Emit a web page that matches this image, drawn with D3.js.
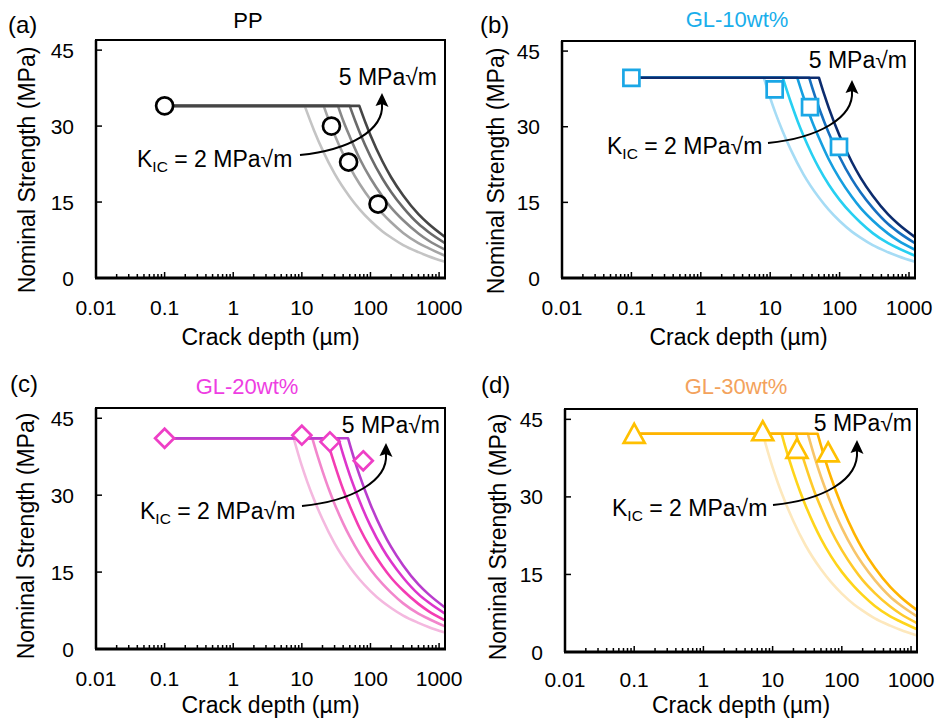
<!DOCTYPE html>
<meta charset="utf-8">

<style>
  body { margin: 0; background: #fff; }
  svg text { font-family: "Liberation Sans", Arial, sans-serif; fill: #000; }
  .tick-label { font-size: 21px; }
  .axis-title { font-size: 23px; }
  .panel-title { font-size: 22px; }
  .tag { font-size: 24px; }
  .note { font-size: 23px; }
</style>

<body>
<svg id="chart" width="940" height="722"></svg>
<script src="https://d3js.org/d3.v7.min.js"></script>

<script type="text/javascript">

    // ---- data ----

    var xTicks = [0.01, 0.1, 1, 10, 100, 1000];
    var xTickLabels = ["0.01", "0.1", "1", "10", "100", "1000"];
    var yTicks = [0, 15, 30, 45];
    var xDomain = [0.01, 1220];
    var yDomain = [0, 47];

    var panelTags = ["(a)", "(b)", "(c)", "(d)"];
    var panelTitles = ["PP", "GL-10wt%", "GL-20wt%", "GL-30wt%"];

    // KIC curves, 2 -> 5 MPa√m, each [crack depth µm, strength MPa]
    // first point = plateau start, second = knee
    var ppCurves = [
        [[0.1, 34], [11, 34], [15, 29.2], [20, 25.3], [30, 20.6], [50, 16.0], [70, 13.5], [100, 11.3], [150, 9.2], [200, 8.0], [300, 6.5], [500, 5.1], [700, 4.3], [1220, 3.2]],
        [[0.1, 34], [20.8, 34], [25, 31.0], [30, 28.3], [40, 24.5], [50, 21.9], [70, 18.5], [100, 15.5], [150, 12.7], [200, 11.0], [300, 8.9], [500, 6.9], [700, 5.9], [1220, 4.4]],
        [[0.1, 34], [33.6, 34], [40, 31.1], [50, 27.9], [70, 23.5], [100, 19.7], [150, 16.1], [200, 13.9], [300, 11.4], [500, 8.8], [700, 7.4], [1220, 5.6]],
        [[0.1, 34], [49.8, 34], [60, 31.0], [70, 28.7], [100, 24.0], [150, 19.6], [200, 17.0], [300, 13.9], [500, 10.7], [700, 9.1], [1220, 6.9]],
        [[0.1, 34], [68.8, 34], [85, 30.6], [100, 28.2], [150, 23.0], [200, 19.9], [300, 16.3], [500, 12.6], [700, 10.7], [1220, 8.1]]
    ];
    var ppPoints = [[0.1, 34.0], [27, 30.0], [48, 22.9], [129, 14.6]];

    var gl10Curves = [
        [[0.1, 39.7], [8.1, 39.7], [10, 35.7], [12, 32.6], [15, 29.2], [20, 25.3], [30, 20.6], [50, 16.0], [70, 13.5], [100, 11.3], [150, 9.2], [200, 8.0], [300, 6.5], [500, 5.1], [700, 4.3], [1220, 3.2]],
        [[0.1, 39.7], [15.2, 39.7], [20, 34.7], [25, 31.0], [30, 28.3], [40, 24.5], [50, 21.9], [70, 18.5], [100, 15.5], [150, 12.7], [200, 11.0], [300, 8.9], [500, 6.9], [700, 5.9], [1220, 4.4]],
        [[0.1, 39.7], [24.6, 39.7], [30, 36.0], [40, 31.1], [50, 27.9], [70, 23.5], [100, 19.7], [150, 16.1], [200, 13.9], [300, 11.4], [500, 8.8], [700, 7.4], [1220, 5.6]],
        [[0.1, 39.7], [36.5, 39.7], [40, 37.9], [50, 33.9], [60, 31.0], [70, 28.7], [100, 24.0], [150, 19.6], [200, 17.0], [300, 13.9], [500, 10.7], [700, 9.1], [1220, 6.9]],
        [[0.1, 39.7], [50.5, 39.7], [60, 36.4], [70, 33.7], [100, 28.2], [150, 23.0], [200, 19.9], [300, 16.3], [500, 12.6], [700, 10.7], [1220, 8.1]]
    ];
    var gl10Points = [[0.1, 39.7], [11.6, 37.4], [37.5, 33.9], [98, 26.0]];

    var gl20Curves = [
        [[0.1, 41.1], [7.6, 41.1], [10, 35.7], [12, 32.6], [15, 29.2], [20, 25.3], [30, 20.6], [50, 16.0], [70, 13.5], [100, 11.3], [150, 9.2], [200, 8.0], [300, 6.5], [500, 5.1], [700, 4.3], [1220, 3.2]],
        [[0.1, 41.1], [14.2, 41.1], [17, 37.6], [20, 34.7], [25, 31.0], [30, 28.3], [40, 24.5], [50, 21.9], [70, 18.5], [100, 15.5], [150, 12.7], [200, 11.0], [300, 8.9], [500, 6.9], [700, 5.9], [1220, 4.4]],
        [[0.1, 41.1], [23.0, 41.1], [25, 39.4], [30, 36.0], [40, 31.1], [50, 27.9], [70, 23.5], [100, 19.7], [150, 16.1], [200, 13.9], [300, 11.4], [500, 8.8], [700, 7.4], [1220, 5.6]],
        [[0.1, 41.1], [34.1, 41.1], [40, 37.9], [50, 33.9], [60, 31.0], [70, 28.7], [100, 24.0], [150, 19.6], [200, 17.0], [300, 13.9], [500, 10.7], [700, 9.1], [1220, 6.9]],
        [[0.1, 41.1], [47.1, 41.1], [50, 39.9], [60, 36.4], [70, 33.7], [100, 28.2], [150, 23.0], [200, 19.9], [300, 16.3], [500, 12.6], [700, 10.7], [1220, 8.1]]
    ];
    var gl20Points = [[0.1, 41.1], [10, 41.7], [25.7, 40.4], [78.5, 36.7]];

    var gl30Curves = [
        [[0.1, 42.2], [7.2, 42.2], [8.5, 38.8], [10, 35.7], [12, 32.6], [15, 29.2], [20, 25.3], [30, 20.6], [50, 16.0], [70, 13.5], [100, 11.3], [150, 9.2], [200, 8.0], [300, 6.5], [500, 5.1], [700, 4.3], [1220, 3.2]],
        [[0.1, 42.2], [13.5, 42.2], [15, 40.0], [20, 34.7], [25, 31.0], [30, 28.3], [40, 24.5], [50, 21.9], [70, 18.5], [100, 15.5], [150, 12.7], [200, 11.0], [300, 8.9], [500, 6.9], [700, 5.9], [1220, 4.4]],
        [[0.1, 42.2], [21.8, 42.2], [25, 39.4], [30, 36.0], [40, 31.1], [50, 27.9], [70, 23.5], [100, 19.7], [150, 16.1], [200, 13.9], [300, 11.4], [500, 8.8], [700, 7.4], [1220, 5.6]],
        [[0.1, 42.2], [32.3, 42.2], [40, 37.9], [50, 33.9], [60, 31.0], [70, 28.7], [100, 24.0], [150, 19.6], [200, 17.0], [300, 13.9], [500, 10.7], [700, 9.1], [1220, 6.9]],
        [[0.1, 42.2], [44.7, 42.2], [50, 39.9], [60, 36.4], [70, 33.7], [100, 28.2], [150, 23.0], [200, 19.9], [300, 16.3], [500, 12.6], [700, 10.7], [1220, 8.1]]
    ];
    var gl30Points = [[0.1, 42.0], [7.2, 42.5], [22.5, 39.1], [63.4, 38.4]];

    var kicLowLabel = " = 2 MPa√m";
    var kicHighLabel = "5 MPa√m";

    // ---- layout / styles ----

    var panels = [
        { curves: ppCurves, points: ppPoints, marker: "circle",
          colors: ["#c4c4c4", "#a5a5a5", "#888888", "#6a6a6a", "#454545"], markColor: "#000", titleColor: "#000",
          box: [96, 40, 445, 278], tag: [8, 33], title: [248, 28], yTitle: [35, 170], xTickY: 315, xTitleY: 345,
          five: [341, 45], kic: [41, 127], arrow: [204, 115, 286, 53] },
        { curves: gl10Curves, points: gl10Points, marker: "square",
          colors: ["#a6dcf5", "#27d0f2", "#159fe0", "#1670c0", "#0c2c6e"], markColor: "#1aa7e6", titleColor: "#19aeeb",
          box: [562, 41, 915, 278], tag: [480, 33], title: [737, 27], yTitle: [504, 171], xTickY: 315, xTitleY: 345,
          five: [345, 27], kic: [45, 113], arrow: [206, 102, 290, 39] },
        { curves: gl20Curves, points: gl20Points, marker: "diamond",
          colors: ["#f4b8df", "#f286cc", "#f43cb3", "#dd35cc", "#b93dcd"], markColor: "#ee3fc6", titleColor: "#ee3ee2",
          box: [96, 408, 445, 649], tag: [10, 392], title: [247, 394], yTitle: [34, 536], xTickY: 686, xTitleY: 713,
          five: [344, 25], kic: [44, 111], arrow: [206, 98, 290, 35] },
        { curves: gl30Curves, points: gl30Points, marker: "triangle",
          colors: ["#fde8bd", "#ffd51a", "#ffca2a", "#f7c56a", "#ffb400"], markColor: "#ffc000", titleColor: "#f3a25c",
          box: [565, 409, 917, 652], tag: [481, 393], title: [736, 394], yTitle: [506, 537], xTickY: 687, xTitleY: 713,
          five: [347, 22], kic: [47, 107], arrow: [208, 96, 292, 31] }
    ];

    var svg = d3.select("#chart");

    function markerPath(type) {
        if (type == "square") return "M-8,-8H8V8H-8Z";
        if (type == "diamond") return "M0,-9.5L9.5,0L0,9.5L-9.5,0Z";
        if (type == "triangle") return "M0,-11L10.5,8L-10.5,8Z";
        return null;
    }

    panels.forEach(function (p, i) {
        var x0 = p.box[0], y0 = p.box[1], x1 = p.box[2], y1 = p.box[3];
        var x = d3.scaleLog().domain(xDomain).range([x0, x1]);
        var y = d3.scaleLinear().domain(yDomain).range([y1, y0]);
        var g = svg.append("g");

        // curves: straight plateau then smooth tail
        var tail = d3.line()
            .x(function (d) { return x(d[0]); })
            .y(function (d) { return y(d[1]); })
            .curve(d3.curveMonotoneX);

        p.curves.forEach(function (c, k) {
            var start = "M" + x(c[0][0]) + "," + y(c[0][1]);
            var rest = tail(c.slice(1)).replace(/^M/, "L");
            g.append("path")
                .attr("d", start + rest)
                .attr("fill", "none")
                .attr("stroke", p.colors[k])
                .attr("stroke-width", 2.6)
                .attr("stroke-linejoin", "round");
        });

        // frame + axes
        g.append("rect")
            .attr("x", x0).attr("y", y0)
            .attr("width", x1 - x0).attr("height", y1 - y0)
            .attr("fill", "none").attr("stroke", "#000").attr("stroke-width", 2);
        g.append("line")
            .attr("x1", x0 - 1).attr("x2", x1 + 1).attr("y1", y1).attr("y2", y1)
            .attr("stroke", "#000").attr("stroke-width", 3);
        g.append("line")
            .attr("x1", x0).attr("x2", x0).attr("y1", y0).attr("y2", y1)
            .attr("stroke", "#000").attr("stroke-width", 2.5);

        // x ticks (log, inside)
        x.ticks().forEach(function (t) {
            var lg = Math.log10(t);
            var major = Math.abs(lg - Math.round(lg)) < 1e-6;
            if (t <= xDomain[0]) return;
            g.append("line")
                .attr("x1", x(t)).attr("x2", x(t))
                .attr("y1", y1).attr("y2", y1 - (major ? 6 : 4))
                .attr("stroke", "#000").attr("stroke-width", 1.5);
        });
        xTicks.forEach(function (t, k) {
            g.append("text").attr("class", "tick-label")
                .attr("x", x(t)).attr("y", p.xTickY)
                .attr("text-anchor", "middle")
                .text(xTickLabels[k]);
        });

        // y ticks (inside)
        yTicks.forEach(function (t) {
            g.append("line")
                .attr("x1", x0).attr("x2", x0 + 6)
                .attr("y1", y(t)).attr("y2", y(t))
                .attr("stroke", "#000").attr("stroke-width", 1.5);
            g.append("text").attr("class", "tick-label")
                .attr("x", x0 - 22).attr("y", y(t)).attr("dy", "0.36em")
                .attr("text-anchor", "end")
                .text(t);
        });

        // titles
        g.append("text").attr("class", "axis-title")
            .attr("x", (x0 + x1) / 2).attr("y", p.xTitleY)
            .attr("text-anchor", "middle")
            .text("Crack depth (µm)");
        g.append("text").attr("class", "axis-title")
            .attr("transform", "translate(" + p.yTitle[0] + "," + p.yTitle[1] + ") rotate(-90)")
            .attr("text-anchor", "middle")
            .text("Nominal Strength (MPa)");
        g.append("text").attr("class", "panel-title")
            .attr("x", p.title[0]).attr("y", p.title[1])
            .attr("text-anchor", "middle")
            .style("fill", p.titleColor)
            .text(panelTitles[i]);
        g.append("text").attr("class", "tag")
            .attr("x", p.tag[0]).attr("y", p.tag[1])
            .text(panelTags[i]);

        // annotations
        g.append("text").attr("class", "note")
            .attr("x", x0 + p.five[0]).attr("y", y0 + p.five[1])
            .attr("text-anchor", "end")
            .text(kicHighLabel);
        var kt = g.append("text").attr("class", "note")
            .attr("x", x0 + p.kic[0]).attr("y", y0 + p.kic[1]);
        kt.append("tspan").text("K");
        kt.append("tspan").attr("dy", 5).style("font-size", "15.5px").text("IC");
        kt.append("tspan").attr("dy", -5).text(kicLowLabel);

        var sx = x0 + p.arrow[0], sy = y0 + p.arrow[1], hx = x0 + p.arrow[2], hy = y0 + p.arrow[3];
        g.append("path")
            .attr("d", "M" + sx + "," + sy + "C" + (sx + 50) + "," + (sy - 5) + " " + (hx + 2) + "," + (sy - 25) + " " + hx + "," + (hy + 11))
            .attr("fill", "none").attr("stroke", "#000").attr("stroke-width", 2);
        g.append("path")
            .attr("d", "M" + hx + "," + hy + "L" + (hx + 6.5) + "," + (hy + 14) + "L" + hx + "," + (hy + 11) + "L" + (hx - 6.5) + "," + (hy + 13) + "Z")
            .attr("fill", "#000");

        // measured points
        p.points.forEach(function (d) {
            if (p.marker == "circle") {
                g.append("circle")
                    .attr("cx", x(d[0])).attr("cy", y(d[1])).attr("r", 8.5)
                    .attr("fill", "#fff").attr("stroke", p.markColor).attr("stroke-width", 2.7);
            } else {
                g.append("path")
                    .attr("d", markerPath(p.marker))
                    .attr("transform", "translate(" + x(d[0]) + "," + y(d[1]) + ")")
                    .attr("fill", "#fff").attr("stroke", p.markColor).attr("stroke-width", 2.7);
            }
        });
    });

</script>

</body>
